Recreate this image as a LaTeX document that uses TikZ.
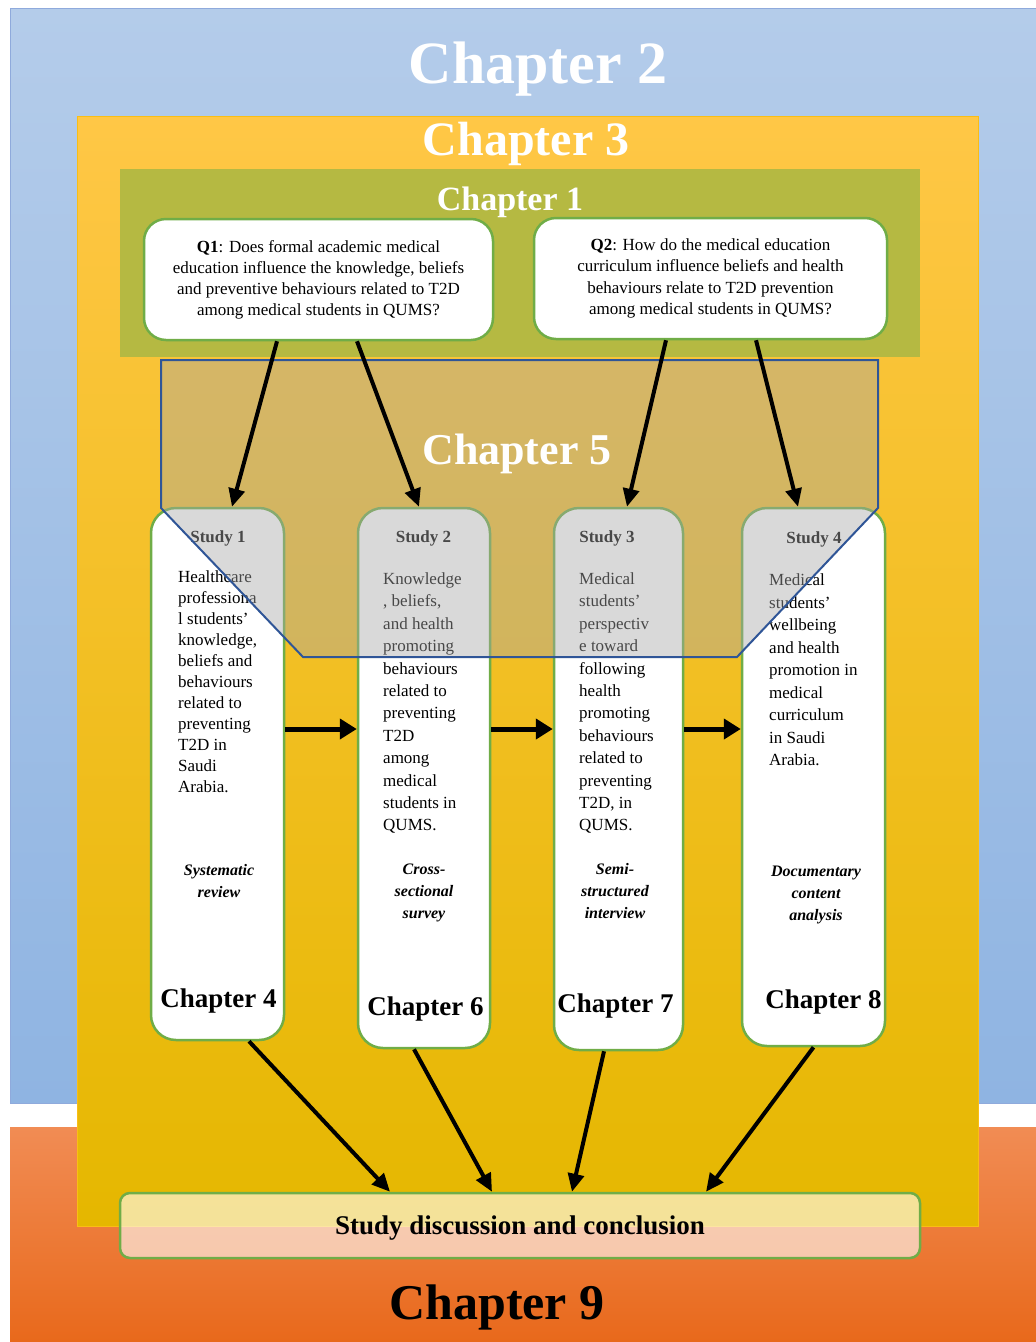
\documentclass[tikz,border=0pt]{standalone}
\usepackage{fontspec}
\setmainfont{Liberation Serif}
\usetikzlibrary{arrows.meta,calc}

\definecolor{skyT}{RGB}{180,204,234}
\definecolor{skyB}{RGB}{143,180,226}
\definecolor{skyline}{RGB}{143,170,220}
\definecolor{emberT}{RGB}{241,140,84}
\definecolor{emberB}{RGB}{232,104,26}
\definecolor{goldT}{RGB}{255,199,70}
\definecolor{goldM}{RGB}{255,196,0}
\definecolor{goldB}{RGB}{229,183,0}
\definecolor{goldline}{RGB}{250,190,20}
\definecolor{olive}{RGB}{181,185,66}
\definecolor{leaf}{RGB}{112,173,71}
\definecolor{navyline}{RGB}{47,85,151}
\definecolor{veil}{RGB}{167,167,167}

\tikzset{
  panel/.style={rectangle, inner sep=0pt, anchor=north west},
  bigtitle/.style={anchor=base, inner sep=0pt, font=\bfseries\fontsize{#1}{#1}\selectfont},
  qbox/.style={rectangle, draw=leaf, line width=2.5pt, fill=white, rounded corners=22pt,
    align=center, inner sep=0pt},
  studybox/.style={rectangle, draw=leaf, line width=2.5pt, fill=white, rounded corners=25pt,
    inner sep=0pt},
  studyhead/.style={anchor=base, inner sep=0pt, font=\bfseries\fontsize{17}{17}\selectfont},
  bodytext/.style={anchor=north west, inner sep=0pt, align=left, font=\fontsize{17}{#1}\selectfont},
  methodtext/.style={anchor=north, inner sep=0pt, align=center, font=\bfseries\itshape\fontsize{16}{22}\selectfont},
  chaptag/.style={anchor=base, inner sep=0pt, font=\bfseries\fontsize{27}{27}\selectfont},
  flow/.style={line width=4pt, -{Triangle[length=18pt,width=16pt]}},
  flowh/.style={line width=5pt, -{Triangle[length=17pt,width=20pt]}},
}

\begin{document}
\begin{tikzpicture}[x=1pt,y=-1pt]
\useasboundingbox (0,0) rectangle (1036,1342);

% outer chapter panels
\node[panel, minimum width=1040pt, minimum height=1095pt, top color=skyT, bottom color=skyB,
  draw=skyline, line width=1.2pt] (ch2) at (10,8) {};
\node[panel, minimum width=1040pt, minimum height=220pt, top color=emberT, bottom color=emberB] (ch9) at (10,1127) {};
\node[panel, minimum width=901pt, minimum height=1110pt, top color=goldT, middle color=goldM,
  bottom color=goldB, draw=goldline, line width=0.8pt] (ch3) at (77,116) {};
\node[panel, minimum width=800pt, minimum height=188pt, fill=olive] (ch1) at (120,169) {};

% panel titles
\node[bigtitle=60, text=white] (t2) at (538,83) {Chapter 2};
\node[bigtitle=48, text=white] (t3) at (526,155) {Chapter 3};
\node[bigtitle=34, text=white] (t1) at (510,210) {Chapter 1};
\node[bigtitle=50, text=black] (t9) at (497,1319) {Chapter 9};

% research questions
\node[qbox, minimum width=349pt, minimum height=121pt, font=\fontsize{17}{21}\selectfont] (q1) at (318.5,279.5)
  {\textbf{Q1}: Does formal academic medical\\education influence the knowledge, beliefs\\and preventive behaviours related to T2D\\among medical students in QUMS?};
\node[qbox, minimum width=353pt, minimum height=121pt, font=\fontsize{17}{21.5}\selectfont] (q2) at (710.5,278.5)
  {\textbf{Q2}: How do the medical education\\curriculum influence beliefs and health\\behaviours relate to T2D prevention\\among medical students in QUMS?};

% study columns
\node[studybox, minimum width=133pt, minimum height=532pt] (s1) at (217.5,774) {};
\node[studybox, minimum width=132pt, minimum height=540pt] (s2) at (424,778) {};
\node[studybox, minimum width=129pt, minimum height=542pt] (s3) at (618.5,779) {};
\node[studybox, minimum width=143pt, minimum height=538pt] (s4) at (813.5,777) {};

\node[studyhead] (h1) at (218,542) {Study 1};
\node[studyhead] (h2) at (423.5,542) {Study 2};
\node[studyhead] (h3) at (607,542) {Study 3};
\node[studyhead] (h4) at (814,543) {Study 4};

\node[bodytext=21] (b1) at (178,570.5)
  {Healthcare\\professiona\\l students’\\knowledge,\\beliefs and\\behaviours\\related to\\preventing\\T2D in\\Saudi\\Arabia.};
\node[bodytext=22.4] (b2) at (383,572.5)
  {Knowledge\\, beliefs,\\and health\\promoting\\behaviours\\related to\\preventing\\T2D\\among\\medical\\students in\\QUMS.};
\node[bodytext=22.4] (b3) at (579,572.5)
  {Medical\\students’\\perspectiv\\e toward\\following\\health\\promoting\\behaviours\\related to\\preventing\\T2D, in\\QUMS.};
\node[bodytext=22.5] (b4) at (769,573.5)
  {Medical\\students’\\wellbeing\\and health\\promotion in\\medical\\curriculum\\in Saudi\\Arabia.};

\node[methodtext] (m1) at (219,864) {Systematic\\review};
\node[methodtext] (m2) at (424,864) {Cross-\\sectional\\survey};
\node[methodtext] (m3) at (615,863) {Semi-\\structured\\interview};
\node[methodtext] (m4) at (816,866) {Documentary\\content\\analysis};

\node[chaptag] (c4) at (218.5,1007) {Chapter 4};
\node[chaptag] (c6) at (425.5,1015) {Chapter 6};
\node[chaptag] (c7) at (615.5,1012) {Chapter 7};
\node[chaptag] (c8) at (823.5,1008) {Chapter 8};

% Chapter 5 zone laid over the top of the study columns
\draw[draw=navyline, line width=2pt, fill=veil, fill opacity=0.43]
  (161,360) -- (878,360) -- (878,508) -- (737,657) -- (303,657) -- (161,508) -- cycle;
\node[bigtitle=44, text=white] (t5) at (517,464) {Chapter 5};

% questions feed the studies
\draw[flow] ([xshift=-41.5pt]q1.south) -- ([xshift=14.5pt]s1.north);
\draw[flow] ([xshift=38.5pt]q1.south) -- ([xshift=-5pt]s2.north);
\draw[flow] ([xshift=-44.5pt]q2.south) -- ([xshift=8.5pt]s3.north);
\draw[flow] ([xshift=45.5pt]q2.south) -- ([xshift=-15.5pt]s4.north);

% study sequence
\draw[flowh] ([yshift=45pt]s1.east) -- ([yshift=49pt]s2.west);
\draw[flowh] ([yshift=49pt]s2.east) -- ([yshift=50pt]s3.west);
\draw[flowh] ([yshift=50pt]s3.east) -- ([yshift=48pt]s4.west);

% synthesis
\node[rectangle, draw=leaf, line width=2.5pt, fill=white, fill opacity=0.6, text opacity=1,
  rounded corners=10pt, minimum width=800pt, minimum height=65pt, inner sep=0pt] (disc) at (520,1225.5) {};
\node[anchor=base, inner sep=0pt, font=\bfseries\fontsize{27}{27}\selectfont] (disctext) at (520,1234)
  {Study discussion and conclusion};

\draw[flow] ([xshift=31.5pt]s1.south) -- ([xshift=-130pt]disc.north);
\draw[flow] ([xshift=-10pt]s2.south) -- ([xshift=-28pt]disc.north);
\draw[flow] ([xshift=-14.5pt]s3.south) -- ([xshift=52pt]disc.north);
\draw[flow] (s4.south) -- ([xshift=186pt]disc.north);
\end{tikzpicture}
\end{document}
